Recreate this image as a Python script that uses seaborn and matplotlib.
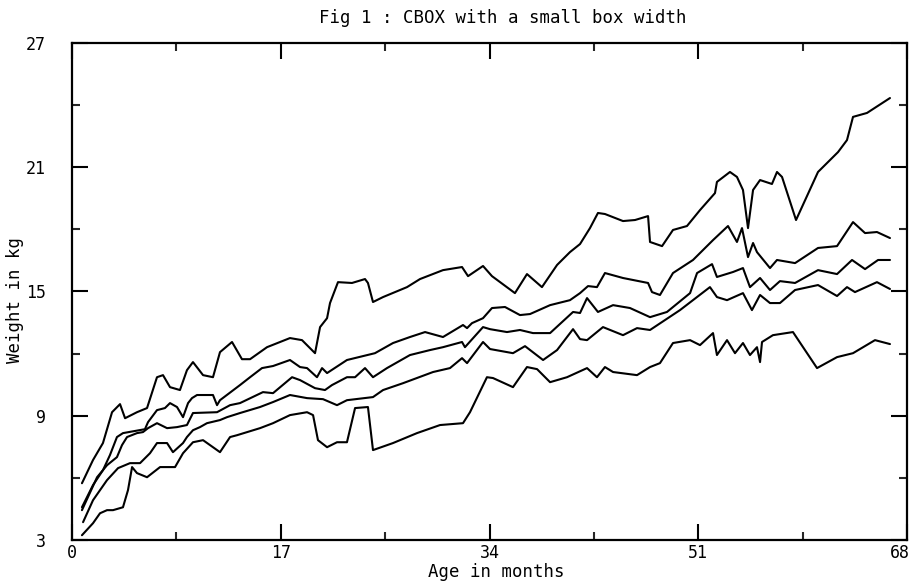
import matplotlib
matplotlib.use("Agg")
import matplotlib.pyplot as plt
import matplotlib.transforms as mtransforms
import seaborn as sns
from matplotlib.ticker import FixedLocator

# ---- data (age in months, weight in kg) ----
age_top = [0.81, 1.71, 2.52, 3.26, 3.91, 4.32, 5.29, 6.11, 6.92, 7.41, 7.98, 8.79, 9.36, 9.85, 10.67,
           11.48, 12.05, 13.03, 13.84, 14.50, 15.88, 17.75, 18.73, 19.79, 20.20, 20.77, 21.01, 21.66,
           22.80, 23.86, 24.10, 24.51, 25.33, 27.28, 28.34, 30.21, 31.76, 32.25, 33.47, 34.20, 36.07,
           37.05, 38.27, 39.50, 40.55, 41.37, 42.18, 42.83, 43.40, 44.87, 45.85, 46.91, 47.07, 48.05,
           48.94, 50.08, 51.14, 52.36, 52.52, 53.58, 54.15, 54.64, 55.05, 55.46, 56.03, 57.00, 57.41,
           57.82, 58.96, 60.75, 62.38, 63.11, 63.60, 64.74, 66.61]
wt_top = [5.74, 6.86, 7.68, 9.17, 9.56, 8.88, 9.17, 9.37, 10.86, 10.96, 10.38, 10.24, 11.20, 11.59, 10.96,
          10.86, 12.07, 12.56, 11.73, 11.73, 12.31, 12.75, 12.65, 12.02, 13.28, 13.71, 14.44, 15.45,
          15.41, 15.60, 15.41, 14.49, 14.73, 15.21, 15.60, 16.03, 16.18, 15.74, 16.23, 15.74, 14.92,
          15.84, 15.21, 16.28, 16.90, 17.29, 18.06, 18.79, 18.74, 18.40, 18.45, 18.64, 17.39, 17.19,
          17.97, 18.16, 18.93, 19.75, 20.29, 20.77, 20.53, 19.90, 18.06, 19.90, 20.38, 20.19, 20.77,
          20.53, 18.45, 20.77, 21.73, 22.31, 23.43, 23.62, 24.34]

age_upper = [0.81, 1.71, 2.52, 3.09, 3.66, 4.15, 5.94, 6.19, 6.92, 7.57, 7.98, 8.55, 9.04, 9.45, 9.77,
             10.18, 11.48, 11.81, 12.05, 13.68, 14.50, 15.47, 16.37, 17.75, 18.57, 19.14, 19.95, 20.36,
             20.77, 22.39, 24.67, 26.14, 27.52, 28.75, 30.21, 31.84, 32.17, 32.57, 33.47, 34.20, 35.26,
             36.48, 37.30, 38.93, 40.55, 41.37, 42.02, 42.75, 43.40, 44.87, 46.91, 47.23, 47.88, 48.94,
             50.57, 52.20, 53.42, 54.15, 54.56, 55.05, 55.46, 55.78, 56.84, 57.41, 58.88, 60.75, 62.30,
             63.60, 64.58, 65.55, 66.61]
wt_upper = [4.58, 5.65, 6.37, 7.10, 7.97, 8.16, 8.35, 8.69, 9.27, 9.37, 9.61, 9.42, 8.93, 9.61, 9.85,
            10.00, 10.00, 9.51, 9.75, 10.48, 10.86, 11.30, 11.40, 11.69, 11.35, 11.30, 10.86, 11.30,
            11.06, 11.69, 12.02, 12.51, 12.80, 13.04, 12.80, 13.38, 13.23, 13.47, 13.71, 14.20, 14.25,
            13.86, 13.91, 14.34, 14.58, 14.92, 15.26, 15.21, 15.89, 15.65, 15.41, 14.97, 14.83, 15.89,
            16.52, 17.48, 18.16, 17.39, 18.06, 16.66, 17.34, 16.90, 16.13, 16.52, 16.37, 17.10, 17.19,
            18.35, 17.82, 17.87, 17.58]

age_mid = [0.81, 2.04, 2.85, 3.66, 4.07, 4.48, 5.29, 5.78, 6.19, 6.92, 7.74, 8.55, 9.36, 9.85, 11.81,
           12.87, 13.68, 15.55, 16.37, 17.92, 18.57, 19.79, 20.60, 21.17, 22.39, 23.05, 23.86, 24.51,
           25.65, 27.52, 29.15, 30.21, 31.76, 32.00, 33.47, 34.04, 35.42, 36.48, 37.54, 38.93, 40.80,
           41.37, 41.94, 42.83, 44.06, 45.44, 47.07, 48.45, 50.33, 50.90, 52.12, 52.52, 53.83, 54.64,
           55.21, 56.03, 56.84, 57.65, 58.88, 60.75, 62.30, 63.52, 64.58, 65.64, 66.61]
wt_mid = [4.44, 6.03, 6.61, 7.00, 7.58, 7.97, 8.16, 8.21, 8.40, 8.64, 8.40, 8.45, 8.55, 9.13, 9.17,
          9.51, 9.61, 10.14, 10.09, 10.86, 10.72, 10.33, 10.24, 10.48, 10.86, 10.86, 11.30, 10.86,
          11.30, 11.93, 12.17, 12.31, 12.56, 12.31, 13.28, 13.18, 13.04, 13.14, 12.99, 12.99, 14.01,
          13.96, 14.68, 14.01, 14.34, 14.20, 13.76, 14.01, 14.92, 15.89, 16.32, 15.70, 15.94, 16.13,
          15.21, 15.65, 15.07, 15.50, 15.41, 16.03, 15.84, 16.52, 16.08, 16.52, 16.52]

age_lower = [0.90, 1.71, 2.85, 3.75, 4.72, 5.54, 6.35, 6.92, 7.74, 8.22, 9.04, 9.36, 9.85, 10.42, 10.99,
             12.05, 12.62, 13.68, 15.31, 16.37, 17.75, 19.14, 20.44, 21.58, 22.39, 24.51, 25.33, 26.95,
             29.40, 30.78, 31.76, 32.17, 33.47, 34.04, 35.91, 36.89, 38.36, 39.50, 40.80, 41.37, 41.94,
             43.24, 44.87, 46.01, 47.07, 49.51, 51.95, 52.52, 53.34, 54.64, 55.37, 56.03, 56.84, 57.65,
             58.88, 60.75, 62.30, 63.11, 63.76, 65.55, 66.61]
wt_lower = [3.86, 4.92, 5.89, 6.47, 6.71, 6.71, 7.19, 7.68, 7.68, 7.24, 7.68, 7.97, 8.30, 8.45, 8.64,
            8.79, 8.93, 9.13, 9.42, 9.66, 10.00, 9.85, 9.80, 9.51, 9.75, 9.90, 10.24, 10.57, 11.11,
            11.30, 11.78, 11.54, 12.56, 12.22, 12.02, 12.36, 11.69, 12.17, 13.18, 12.70, 12.65, 13.28,
            12.89, 13.23, 13.14, 14.10, 15.21, 14.73, 14.58, 14.92, 14.10, 14.83, 14.44, 14.44, 15.07,
            15.31, 14.78, 15.21, 14.97, 15.45, 15.12]

age_bottom = [0.81, 1.71, 2.28, 2.85, 3.34, 4.15, 4.56, 4.89, 5.29, 6.11, 7.17, 8.39, 9.04, 9.85, 10.67,
              11.48, 12.05, 12.87, 13.44, 15.31, 16.37, 17.75, 19.14, 19.63, 20.03, 20.77, 21.58, 22.39,
              23.05, 24.10, 24.51, 26.14, 28.09, 29.97, 31.84, 32.41, 33.79, 34.28, 35.91, 37.05, 37.87,
              38.93, 40.31, 41.94, 42.75, 43.40, 44.06, 46.01, 47.07, 47.88, 48.94, 50.33, 51.14, 52.20,
              52.52, 53.34, 53.99, 54.64, 55.21, 55.78, 56.03, 56.19, 57.08, 58.71, 60.67, 62.30, 63.60,
              65.39, 66.61]
wt_bottom = [3.23, 3.81, 4.29, 4.44, 4.44, 4.58, 5.41, 6.52, 6.23, 6.03, 6.52, 6.52, 7.19, 7.72, 7.82,
             7.48, 7.24, 7.97, 8.06, 8.40, 8.64, 9.03, 9.17, 9.03, 7.82, 7.48, 7.72, 7.72, 9.37, 9.42,
             7.34, 7.68, 8.16, 8.55, 8.64, 9.17, 10.86, 10.82, 10.38, 11.35, 11.25, 10.62, 10.86, 11.30,
             10.86, 11.35, 11.11, 10.96, 11.35, 11.54, 12.51, 12.65, 12.41, 12.99, 11.93, 12.65, 12.02,
             12.51, 11.93, 12.31, 11.59, 12.56, 12.89, 13.04, 11.30, 11.83, 12.02, 12.65, 12.46]

x_major = [0, 17, 34, 51, 68]
x_minor = [8.5, 25.5, 42.5, 59.5]
y_major = [3, 9, 15, 21, 27]
y_minor = [6, 12, 18, 24]
x_labels = ["0", "17", "34", "51", "68"]
y_labels = ["3", "9", "15", "21", "27"]

title = "Fig 1 : CBOX with a small box width"
xlabel = "Age in months"
ylabel = "Weight in kg"

# ---- drawing ----
sns.set_style("white")
plt.rcParams['font.family'] = ['DejaVu Sans Mono', 'DejaVu Sans']

fig = plt.figure(figsize=(9.15, 5.82), dpi=100)
ax = fig.add_axes([0.0787, 0.0722, 0.9126, 0.8540])

curves = [(age_top, wt_top), (age_upper, wt_upper), (age_mid, wt_mid),
          (age_lower, wt_lower), (age_bottom, wt_bottom)]
for a, w in curves:
    sns.lineplot(x=a, y=w, ax=ax, color="black", linewidth=1.5,
                 estimator=None, sort=False)

ax.set_xlim(x_major[0], x_major[-1])
ax.set_ylim(y_major[0], y_major[-1])
ax.xaxis.set_major_locator(FixedLocator(x_major))
ax.yaxis.set_major_locator(FixedLocator(y_major))
ax.set_xticklabels(x_labels)
ax.set_yticklabels(y_labels)
ax.xaxis.set_minor_locator(FixedLocator(x_minor))
ax.yaxis.set_minor_locator(FixedLocator(y_minor))

ax.tick_params(which="major", direction="in", length=11.5, width=1.5,
               top=True, right=True, bottom=True, left=True,
               labelsize=12, colors="black")
ax.tick_params(which="minor", direction="in", length=5.5, width=1.5,
               top=True, right=True, bottom=True, left=True)
ax.tick_params(axis="y", which="major", pad=19)
ax.tick_params(axis="x", which="major", pad=3)

# keep the last x label ("68") inside the figure, as in the reference
last = ax.get_xticklabels()[-1]
last.set_transform(last.get_transform() +
                   mtransforms.ScaledTranslation(-7 / 100, 0, fig.dpi_scale_trans))

for s in ax.spines.values():
    s.set_visible(True)
    s.set_linewidth(1.6)
    s.set_color("black")

ax.set_xlabel("")
ax.set_ylabel("")
fig.text(0.5497, 0.969, title, ha="center", va="center", fontsize=12.5, color="black")
fig.text(0.542, 0.0172, xlabel, ha="center", va="center", fontsize=12.5, color="black")
fig.text(0.0164, 0.4845, ylabel, ha="center", va="center", rotation=90,
         fontsize=12.5, color="black")

fig.savefig("out.png", dpi=100, facecolor="white")
